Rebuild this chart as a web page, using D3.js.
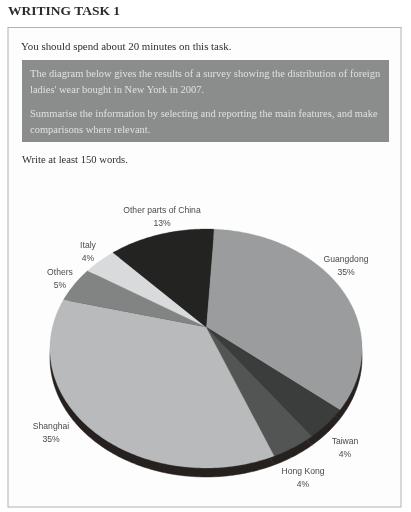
<!DOCTYPE html>
<html><head><meta charset="utf-8">
<script src="https://cdn.jsdelivr.net/npm/d3@7/dist/d3.min.js"></script>
<style>html,body{margin:0;padding:0;background:#fff}svg{display:block;filter:blur(0.35px)}</style>
</head><body><svg id="c" width="411" height="512"></svg>
<script>
const categories = ["Guangdong","Taiwan","Hong Kong","Shanghai","Others","Italy","Other parts of China"];
const values = [35,4,4,35,5,4,13];
const sliceColors = ["#9a9c9d","#3b3c3c","#535554","#b8babc","#828484","#d8dadc","#232322"];
const labelCentres = [[346,259],[345,441],[303,471],[51,426],[60,272],[88,245],[162,210]];
const instructions = ["The diagram below gives the results of a survey showing the distribution of foreign","ladies' wear bought in New York in 2007.","Summarise the information by selecting and reporting the main features, and make","comparisons where relevant."];
const instructionBase = [77,93,117,133];

const svg = d3.select("#c");
const serif = "'Liberation Serif',serif", sans = "'Liberation Sans',sans-serif";
svg.append("rect").attr("width",411).attr("height",512).attr("fill","#fff");
svg.append("rect").attr("x",8).attr("y",27.5).attr("width",393).attr("height",479.5).attr("fill","#fdfdfd").attr("stroke","#b0b2b3").attr("stroke-width",1);
svg.append("rect").attr("x",22).attr("y",60).attr("width",367).attr("height",82).attr("fill","#8b8d8d");

function txt(s,x,y,size,fill,font,opt={}){
  return svg.append("text").attr("x",x).attr("y",y).attr("font-size",size).attr("fill",fill)
    .attr("font-family",font).attr("font-weight",opt.w||"normal").attr("text-anchor",opt.a||"start").text(s);
}
txt("WRITING TASK 1",8,15,13.5,"#2b2b2b",serif,{w:"bold"});
txt("You should spend about 20 minutes on this task.",21,50,10.9,"#2f2f2f",serif);
instructions.forEach((s,i)=>txt(s,30,instructionBase[i],10.5,"#dfe0e0",serif));
txt("Write at least 150 words.",22,163,10.6,"#2f2f2f",serif);

// perspective projection of the flat pie
const cx=206, cy=327, a=153.5, b=115.6, k=0.18, depth=9;
const project = t => { const x=Math.sin(t), y=-Math.cos(t), w=1-k*y; return [cx+a*x/w, cy+b*y/w]; };
const pie = d3.pie().sort(null).startAngle(3.5*Math.PI/180).endAngle((363.5)*Math.PI/180);
const arcs = pie(values);
const line = d3.line();
function slicePath(d){
  const n=Math.max(8,Math.ceil((d.endAngle-d.startAngle)*60));
  const pts=[[cx,cy]];
  for(let i=0;i<=n;i++) pts.push(project(d.startAngle+(d.endAngle-d.startAngle)*i/n));
  return line(pts)+"Z";
}
// side wall
svg.append("g").attr("transform",`translate(0,${depth})`).selectAll("path").data(arcs).join("path")
  .attr("d",slicePath).attr("fill","#26211f").attr("stroke","#26211f").attr("stroke-width",.5);
// top face
svg.append("g").selectAll("path").data(arcs).join("path")
  .attr("d",slicePath).attr("fill",(d,i)=>sliceColors[i]).attr("stroke",(d,i)=>sliceColors[i]).attr("stroke-width",.3);

categories.forEach((c,i)=>{
  const [x,y]=labelCentres[i];
  txt(c,x,y+3,8.6,"#4a4a4a",sans,{a:"middle"});
  txt(values[i]+"%",x,y+15.5,8.6,"#4a4a4a",sans,{a:"middle"});
});
</script></body></html>
